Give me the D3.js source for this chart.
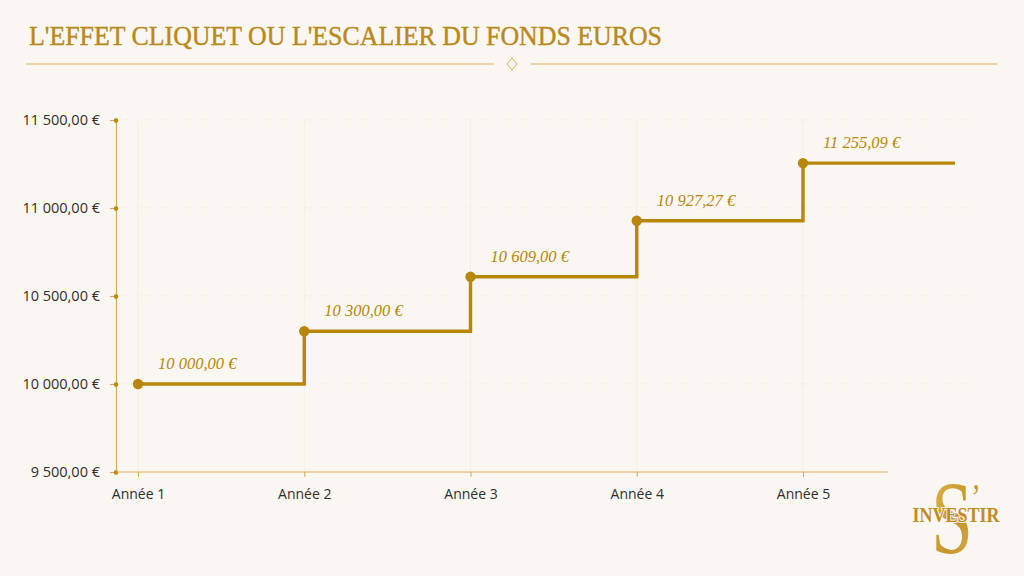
<!DOCTYPE html>
<html><head><meta charset="utf-8">
<script src="https://cdn.jsdelivr.net/npm/d3@7"></script>
<style>html,body{margin:0;padding:0;background:#faf6f1;}svg{display:block}</style>
</head><body>
<svg id="c" width="1024" height="576"></svg>
<script>
const title = "L'EFFET CLIQUET OU L'ESCALIER DU FONDS EUROS";
const years = ["Année 1","Année 2","Année 3","Année 4","Année 5"];
const values = [10000.00, 10300.00, 10609.00, 10927.27, 11255.09];
const labels = ["10 000,00 €","10 300,00 €","10 609,00 €","10 927,27 €","11 255,09 €"];
const yTicks = [9500, 10000, 10500, 11000, 11500];
const yTickLabels = ["9 500,00 €","10 000,00 €","10 500,00 €","11 000,00 €","11 500,00 €"];

const gold = "#b8860b", axisGold = "#d6ad55", textDark = "#2e2e2e";
const svg = d3.select("#c");
svg.append("rect").attr("width",1024).attr("height",576).attr("fill","#faf6f1");

// Title
svg.append("text").attr("x",29).attr("y",45).text(title)
  .attr("font-family","Liberation Serif, DejaVu Serif, serif").attr("font-size",27)
  .attr("fill","#b8891c").attr("stroke","#b8891c").attr("stroke-width",0.4)
  .attr("textLength",633).attr("lengthAdjust","spacingAndGlyphs");
svg.append("line").attr("x1",26).attr("x2",494).attr("y1",64).attr("y2",64).attr("stroke","#e2c68f").attr("stroke-width",1.3);
svg.append("line").attr("x1",531).attr("x2",997).attr("y1",64).attr("y2",64).attr("stroke","#e2c68f").attr("stroke-width",1.3);
svg.append("path").attr("d","M512,58 L517,64 L512,70 L507,64 Z").attr("fill","none").attr("stroke","#d6ad55").attr("stroke-width",1);

const x = d3.scalePoint().domain(years).range([138, 803]);
const y = d3.scaleLinear().domain([9500, 11500]).range([472, 120]);
const axisX0 = 116, axisX1 = 888, lineEnd = 955;

// gridlines
svg.append("g").selectAll("line").data(yTicks.slice(1)).join("line")
  .attr("x1",axisX0+4).attr("x2",axisX1+100).attr("y1",d=>y(d)).attr("y2",d=>y(d))
  .attr("stroke","#f0e9df").attr("stroke-dasharray","2,3");
svg.append("g").selectAll("line").data(years).join("line")
  .attr("x1",d=>x(d)).attr("x2",d=>x(d)).attr("y1",120).attr("y2",472)
  .attr("stroke","#f3eee6");

// Y axis
const ya = svg.append("g").attr("transform",`translate(${axisX0},0)`)
  .call(d3.axisLeft(y).tickValues(yTicks).tickFormat((d,i)=>yTickLabels[i]).tickSize(6).tickPadding(10));
ya.select(".domain").attr("stroke",axisGold).attr("stroke-width",1.2);
ya.selectAll(".tick line").attr("stroke",axisGold);
ya.selectAll(".tick text").attr("fill",textDark).attr("font-family","Open Sans, Noto Sans, sans-serif").attr("font-size",14.5);
ya.selectAll(".tick").append("circle").attr("r",2.3).attr("fill",gold);

// X axis
const xa = svg.append("g").attr("transform",`translate(0,${y(9500)})`)
  .call(d3.axisBottom(x).tickSize(5).tickPadding(12));
xa.select(".domain").attr("d",`M${axisX0},0H${axisX1}`).attr("stroke",axisGold).attr("stroke-width",1.2);
xa.selectAll(".tick line").attr("stroke",axisGold);
xa.selectAll(".tick text").attr("fill",textDark).attr("font-family","Open Sans, Noto Sans, sans-serif").attr("font-size",14);

// Step line
const pts = values.map((v,i)=>[x(years[i]), y(v)]);
pts.push([lineEnd, y(values[values.length-1])]);
svg.append("path").attr("d", d3.line().curve(d3.curveStepAfter)(pts))
  .attr("fill","none").attr("stroke",gold).attr("stroke-width",3.4);
svg.append("g").selectAll("circle").data(values).join("circle")
  .attr("cx",(d,i)=>x(years[i])).attr("cy",d=>y(d)).attr("r",5.2).attr("fill",gold);
svg.append("g").selectAll("text").data(values).join("text")
  .attr("x",(d,i)=>x(years[i])+20).attr("y",d=>y(d)-15).text((d,i)=>labels[i])
  .attr("font-family","Liberation Serif, DejaVu Serif, serif").attr("font-style","italic")
  .attr("font-size",16.5).attr("fill",gold);

// Logo
const defs = svg.append("defs");
const lg = defs.append("linearGradient").attr("id","lg").attr("x1",0).attr("x2",1).attr("y1",0).attr("y2",1);
lg.append("stop").attr("offset","0%").attr("stop-color","#e0b84e");
lg.append("stop").attr("offset","55%").attr("stop-color","#c4952a");
lg.append("stop").attr("offset","100%").attr("stop-color","#e2bf5c");
const logo = svg.append("g");
logo.append("text").attr("transform","translate(956,553) scale(0.78,1.08)").attr("text-anchor","middle")
  .attr("font-family","Liberation Serif, serif").attr("font-size",96).attr("fill","url(#lg)")
  .text("S").append("tspan").attr("font-size",36).attr("dx",-2).attr("dy",-40).text("’");
logo.append("text").attr("x",956).attr("y",522).attr("text-anchor","middle").text("INVESTIR")
  .attr("font-family","Liberation Serif, serif").attr("font-weight","bold").attr("font-size",22)
  .attr("fill","#c08d25").attr("textLength",87).attr("lengthAdjust","spacingAndGlyphs")
  .attr("stroke","#faf6f1").attr("stroke-width",2).attr("paint-order","stroke");
</script>
</body></html>
